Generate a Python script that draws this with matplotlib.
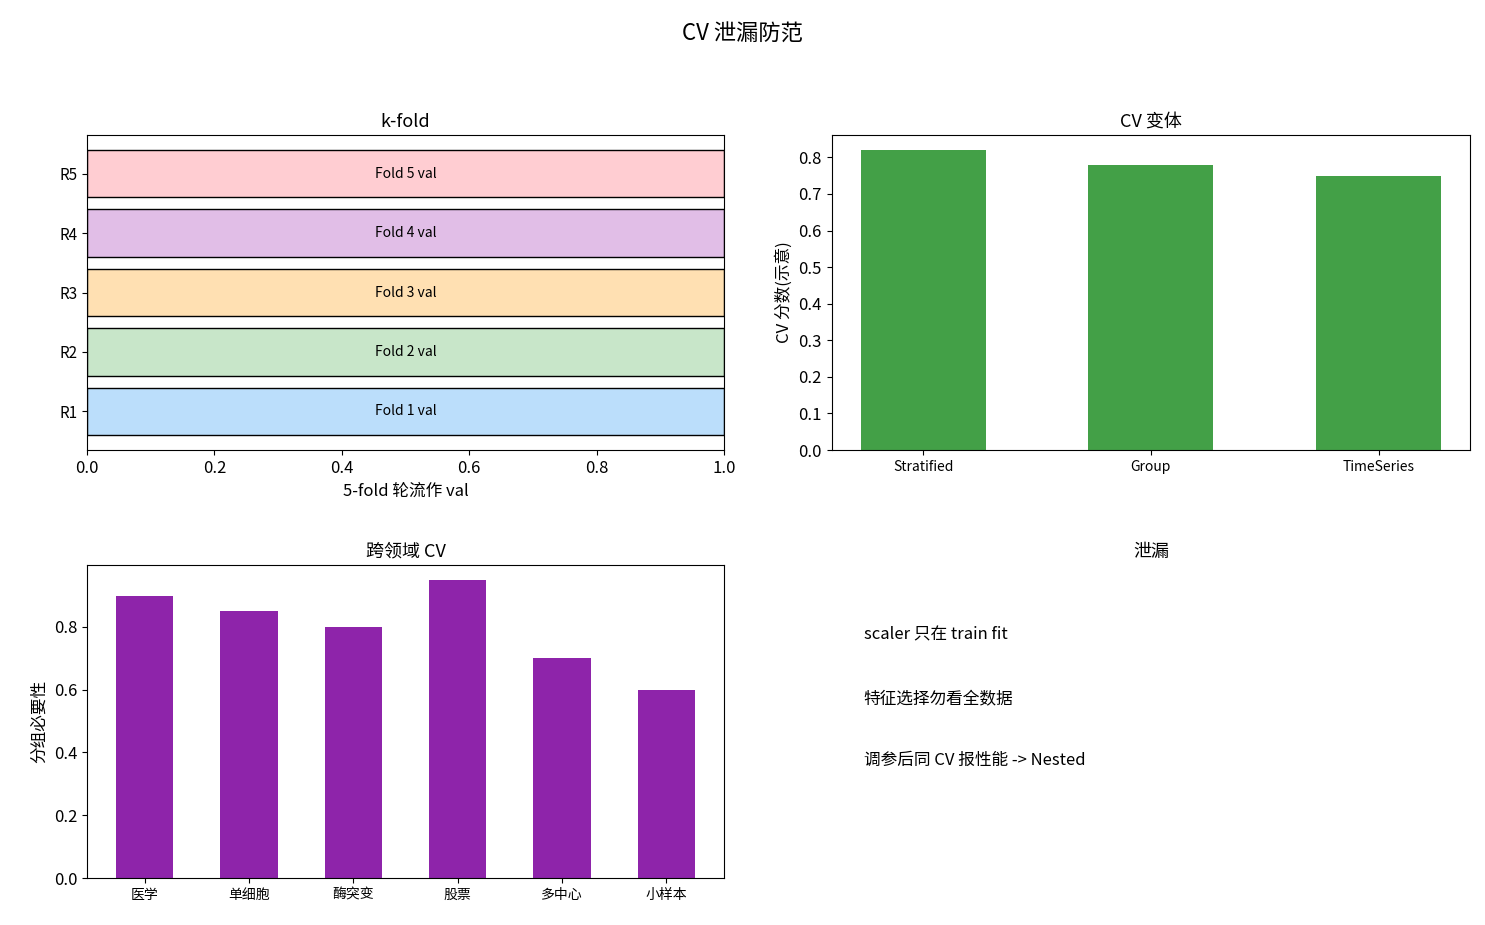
import numpy as np
import matplotlib.pyplot as plt

plt.rcParams['font.family'] = ['Noto Sans CJK SC', 'DejaVu Sans']

fold_rows = ['R1', 'R2', 'R3', 'R4', 'R5']
fold_labels = ['Fold 1 val', 'Fold 2 val', 'Fold 3 val', 'Fold 4 val', 'Fold 5 val']
fold_colors = ['#bbdefb', '#c8e6c9', '#ffe0b2', '#e1bee7', '#ffcdd2']

cv_types = ['Stratified', 'Group', 'TimeSeries']
cv_scores = [0.82, 0.78, 0.75]

domains = ['医学', '单细胞', '酶突变', '股票', '多中心', '小样本']
group_need = [0.9, 0.85, 0.8, 0.95, 0.7, 0.6]

notes = ['scaler 只在 train fit', '特征选择勿看全数据', '调参后同 CV 报性能 -> Nested']

fig = plt.figure(figsize=(14.85, 9.25), dpi=100)
fig.suptitle('CV 泄漏防范', fontsize=16, y=0.975)

# k-fold
ax1 = fig.add_axes([0.0586, 0.5135, 0.4289, 0.3405])
y = np.arange(len(fold_rows))
ax1.barh(y, [1] * len(y), height=0.8, color=fold_colors, edgecolor='black')
for i, lab in enumerate(fold_labels):
    ax1.text(0.5, i, lab, ha='center', va='center', fontsize=10)
ax1.set_yticks(y)
ax1.set_yticklabels(fold_rows, fontsize=11)
ax1.set_xlim(0, 1)
ax1.set_ylim(-0.65, 4.65)
ax1.tick_params(axis='x', labelsize=12)
ax1.set_xlabel('5-fold 轮流作 val', fontsize=12)
ax1.set_title('k-fold', fontsize=13)

# CV variants
ax2 = fig.add_axes([0.560, 0.5135, 0.430, 0.3405])
ax2.bar(cv_types, cv_scores, width=0.55, color='#43a047')
ax2.set_ylabel('CV 分数(示意)', fontsize=12)
ax2.set_title('CV 变体', fontsize=13)
ax2.tick_params(axis='x', labelsize=10)
ax2.tick_params(axis='y', labelsize=12)

# cross-domain
ax3 = fig.add_axes([0.0586, 0.0508, 0.4289, 0.3384])
ax3.bar(domains, group_need, width=0.55, color='#8e24aa')
ax3.set_ylabel('分组必要性', fontsize=12)
ax3.set_title('跨领域 CV', fontsize=13)
ax3.tick_params(axis='x', labelsize=10)
ax3.tick_params(axis='y', labelsize=12)

# leakage notes
ax4 = fig.add_axes([0.560, 0.0508, 0.430, 0.3384])
ax4.axis('off')
ax4.set_title('泄漏', fontsize=13)
for ty, note in zip([0.776, 0.569, 0.377], notes):
    ax4.text(0.05, ty, note, fontsize=12, va='center', transform=ax4.transAxes)

fig.savefig('out.png', dpi=100)
